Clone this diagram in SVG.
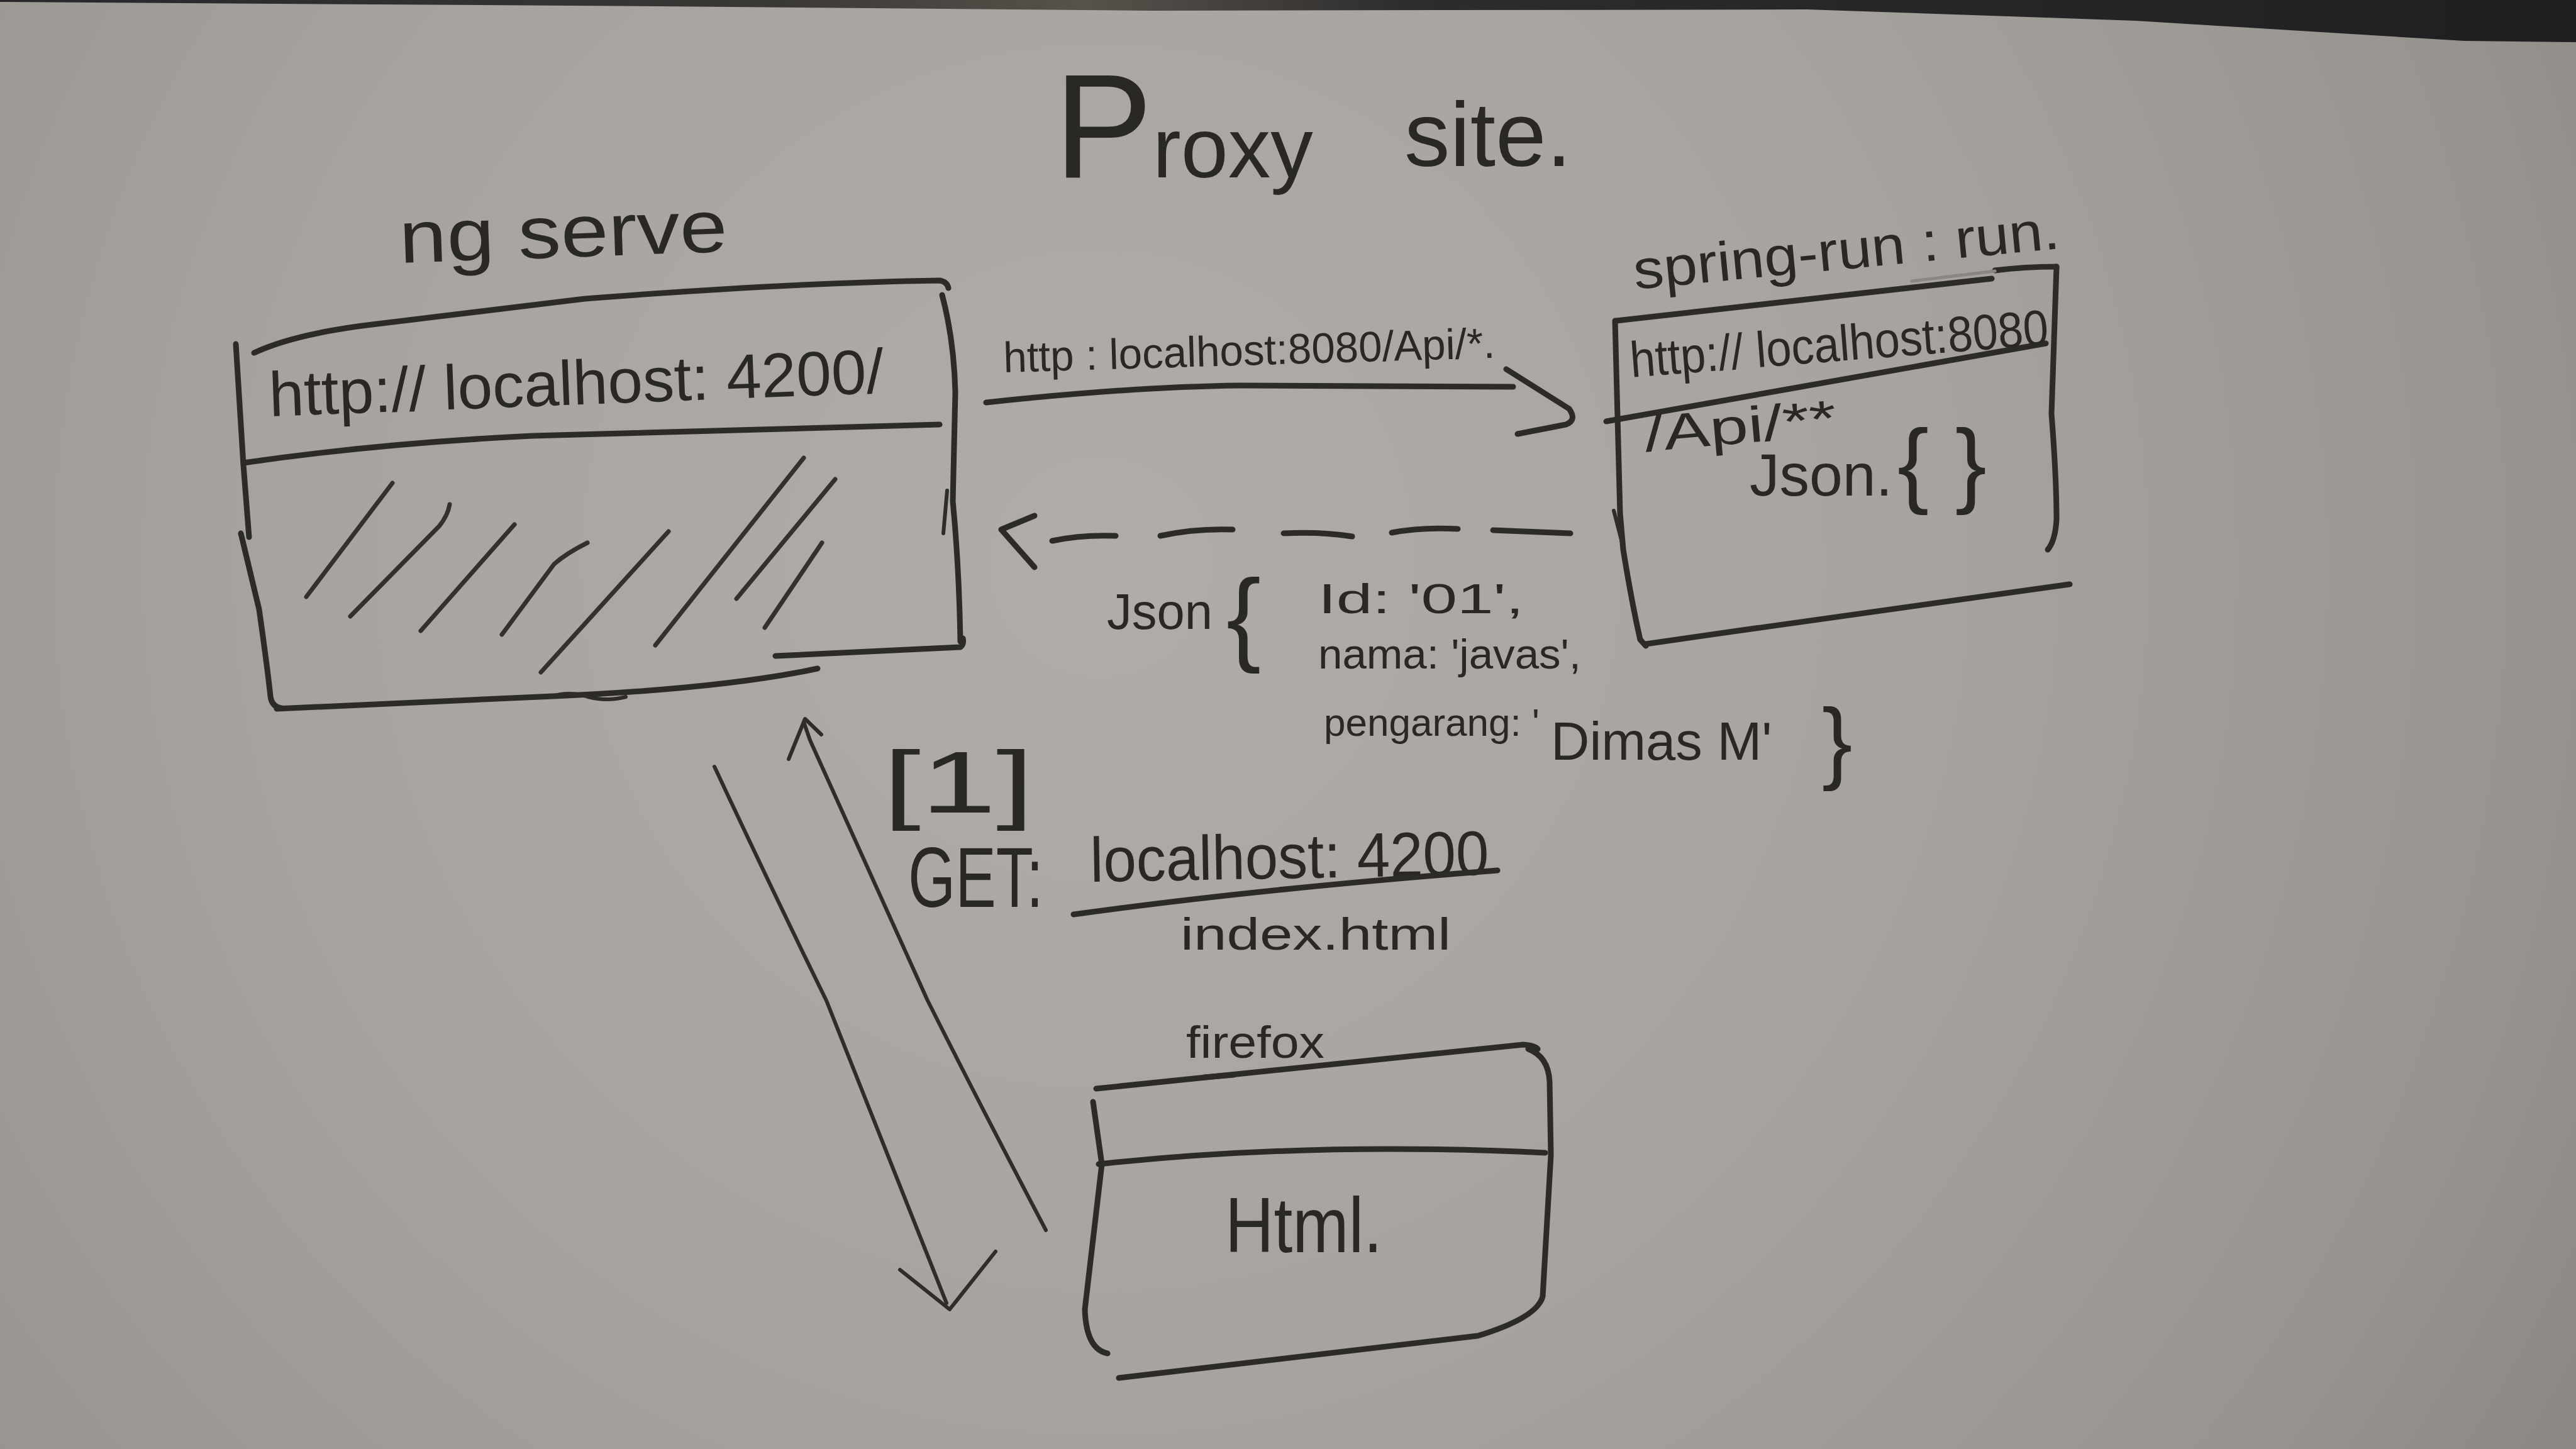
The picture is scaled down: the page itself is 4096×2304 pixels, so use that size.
<svg xmlns="http://www.w3.org/2000/svg" width="4096" height="2304" viewBox="0 0 4096 2304">
  <defs>
    <radialGradient id="board" cx="1750" cy="900" r="2900" gradientUnits="userSpaceOnUse">
      <stop offset="0" stop-color="#b0ada8"/>
      <stop offset="0.45" stop-color="#a7a49f"/>
      <stop offset="0.8" stop-color="#97948f"/>
      <stop offset="1" stop-color="#86837f"/>
    </radialGradient>
    <linearGradient id="edge" x1="0" y1="0" x2="4096" y2="0" gradientUnits="userSpaceOnUse">
      <stop offset="0" stop-color="#27272a"/>
      <stop offset="0.3" stop-color="#3a3835"/>
      <stop offset="0.42" stop-color="#57524b"/>
      <stop offset="0.55" stop-color="#2d2c2c"/>
      <stop offset="1" stop-color="#1f1f21"/>
    </linearGradient>
    <style>
      .ink { fill: none; stroke: #2d2b28; stroke-width: 9; stroke-linecap: round; stroke-linejoin: round; }
      .thin { fill: none; stroke: #2f2d2a; stroke-width: 6; stroke-linecap: round; stroke-linejoin: round; }
      .hatch { fill: none; stroke: #33312d; stroke-width: 7; stroke-linecap: round; }
      .faint { fill: none; stroke: #8a8782; stroke-width: 5; stroke-linecap: round; }
      text { font-family: "Liberation Sans", Arial, sans-serif; fill: #2a2825; }
    </style>
  </defs>

  <!-- whiteboard surface and the dark frame strip along the top -->
  <rect x="0" y="0" width="4096" height="2304" fill="url(#board)"/>
  <path d="M0,0 L4096,0 L4096,67 L3918,65 L3787,57 L3396,33 L2873,15 L1828,17 L1045,10 L0,3 Z" fill="url(#edge)"/>

  <!-- heading -->
  <g id="title">
    <text x="1676" y="282"><tspan font-size="235">P</tspan><tspan font-size="135">roxy</tspan></text>
    <text x="2233" y="264" font-size="145">site.</text>
  </g>

  <!-- dev server window (ng serve) -->
  <g id="ng-serve">
    <text x="636" y="418" font-size="118" textLength="522" lengthAdjust="spacingAndGlyphs" transform="rotate(-2 636 418)">ng serve</text>
    <path class="ink" d="M404,561 Q470,530 600,515 L930,475 Q1250,450 1494,446 Q1506,448 1508,458"/>
    <path class="ink" d="M375,547 L387,739 L396,854"/>
    <path class="ink" d="M383,848 L412,969 Q425,1060 430,1107 Q432,1124 448,1126"/>
    <path class="ink" d="M440,1127 L880,1107 Q1150,1095 1300,1063"/>
    <path class="thin" d="M875,1108 q30,-10 60,0 q30,8 60,0"/>
    <path class="ink" d="M1233,1043 L1527,1029 Q1533,1025 1531,1015"/>
    <path class="ink" d="M1498,469 Q1517,540 1519,624 L1515,797 Q1525,900 1527,1020"/>
    <path class="thin" d="M1506,780 L1500,848"/>
    <path class="ink" d="M387,736 Q600,705 847,693 L1494,675"/>
    <text x="429" y="662" font-size="100" textLength="978" lengthAdjust="spacingAndGlyphs" transform="rotate(-2.2 429 662)">http:// localhost: 4200/</text>
    <g class="hatch">
      <path d="M624,768 L487,949"/>
      <path d="M715,802 Q712,820 698,837 L557,980"/>
      <path d="M818,834 L669,1003"/>
      <path d="M934,863 Q900,880 881,897 L798,1009"/>
      <path d="M1063,845 L860,1069"/>
      <path d="M1278,728 L1042,1026"/>
      <path d="M1328,762 L1171,952"/>
      <path d="M1307,863 L1216,998"/>
    </g>
  </g>

  <!-- backend window (spring-run) -->
  <g id="spring-run">
    <text x="2600" y="460" font-size="88" textLength="680" lengthAdjust="spacingAndGlyphs" transform="rotate(-5.5 2600 460)">spring-run : run.</text>
    <path class="ink" d="M2570,510 L3167,443"/>
    <path class="ink" d="M3172,430 Q3220,424 3270,424"/>
    <path class="faint" d="M3040,447 L3172,431"/>
    <path class="ink" d="M3270,424 L3262,658 Q3270,760 3270,826 Q3268,860 3256,874"/>
    <path class="ink" d="M2568,510 L2570,587 L2576,816 L2581,874 Q2595,960 2608,1017 L2617,1027"/>
    <path class="thin" d="M2566,812 L2582,874"/>
    <path class="ink" d="M2554,670 L3253,546"/>
    <path class="ink" d="M2617,1024 L2749,1005 L3291,929"/>
    <text x="2594" y="600" font-size="80" textLength="667" lengthAdjust="spacingAndGlyphs" transform="rotate(-4.5 2594 600)">http:// localhost:8080</text>
    <text x="2617" y="718" font-size="80" textLength="306" lengthAdjust="spacingAndGlyphs" transform="rotate(-5 2617 718)">/Api/**</text>
    <text x="2782" y="788" font-size="95">Json.<tspan font-size="150" dx="8" dy="0">{ }</tspan></text>
  </g>

  <!-- browser window (firefox) -->
  <g id="firefox">
    <text x="1886" y="1682" font-size="72" textLength="220" lengthAdjust="spacingAndGlyphs">firefox</text>
    <path class="ink" d="M1743,1731 Q2000,1705 2422,1661 Q2440,1662 2445,1668"/>
    <path class="ink" d="M1915,1713 L1962,1709"/>
    <path class="ink" d="M2430,1668 Q2462,1680 2464,1720 L2466,1837 L2453,2061 Q2445,2095 2350,2124 L1779,2191"/>
    <path class="ink" d="M1738,1752 L1752,1851 L1725,2082 Q1727,2145 1761,2152"/>
    <path class="ink" d="M1747,1851 Q2082,1815 2457,1833"/>
    <text x="1948" y="1991" font-size="125" textLength="250" lengthAdjust="spacingAndGlyphs">Html.</text>
  </g>

  <!-- arrows between the windows -->
  <g id="connectors">
    <!-- proxied request to the backend -->
    <path class="ink" d="M1568,640 Q1800,615 1971,613 L2406,615"/>
    <path class="ink" d="M2395,587 L2495,650 Q2508,668 2490,675 L2413,690"/>
    <!-- JSON response back (dashed) -->
    <g class="ink">
      <path d="M1673,860 Q1720,850 1774,852"/>
      <path d="M1845,852 Q1900,840 1960,842"/>
      <path d="M2041,848 Q2100,845 2150,853"/>
      <path d="M2213,847 Q2260,838 2318,841"/>
      <path d="M2374,843 L2497,848"/>
      <path d="M1645,820 L1592,842 L1645,902"/>
    </g>
    <!-- page request from the browser and the reply -->
    <path class="thin" d="M1663,1956 Q1560,1760 1475,1591 L1288,1177 L1278,1148"/>
    <path class="thin" d="M1254,1207 L1280,1143 L1306,1168"/>
    <path class="thin" d="M1136,1219 Q1230,1420 1314,1591 L1505,2072"/>
    <path class="thin" d="M1431,2019 L1510,2082 L1583,1990"/>
  </g>

  <!-- connector labels -->
  <g id="request-label">
    <text x="1596" y="592" font-size="68" textLength="782" lengthAdjust="spacingAndGlyphs" transform="rotate(-1.7 1596 592)">http : localhost:8080/Api/*.</text>
  </g>

  <g id="response-label">
    <text x="1760" y="1000" font-size="80" textLength="168" lengthAdjust="spacingAndGlyphs">Json</text>
    <text x="1950" y="1037" font-size="165">{</text>
    <text x="2096" y="975" font-size="66" textLength="327" lengthAdjust="spacingAndGlyphs">Id: '01',</text>
    <text x="2096" y="1063" font-size="66" textLength="418" lengthAdjust="spacingAndGlyphs">nama: 'javas',</text>
    <text font-size="62"><tspan x="2105" y="1170">pengarang: '</tspan><tspan x="2466" y="1208" font-size="85">Dimas M'</tspan></text>
    <text x="2897" y="1228" font-size="145">}</text>
  </g>

  <g id="get-label">
    <text x="1404" y="1292" font-size="140" textLength="240" lengthAdjust="spacingAndGlyphs">[1]</text>
    <text x="1444" y="1442" font-size="135" textLength="215" lengthAdjust="spacingAndGlyphs">GET:</text>
    <text x="1734" y="1402" font-size="100" textLength="634" lengthAdjust="spacingAndGlyphs" transform="rotate(-1 1734 1402)">localhost: 4200</text>
    <path class="ink" d="M1707,1454 Q1993,1414 2381,1384"/>
    <text x="1877" y="1510" font-size="72" textLength="430" lengthAdjust="spacingAndGlyphs">index.html</text>
  </g>
</svg>
